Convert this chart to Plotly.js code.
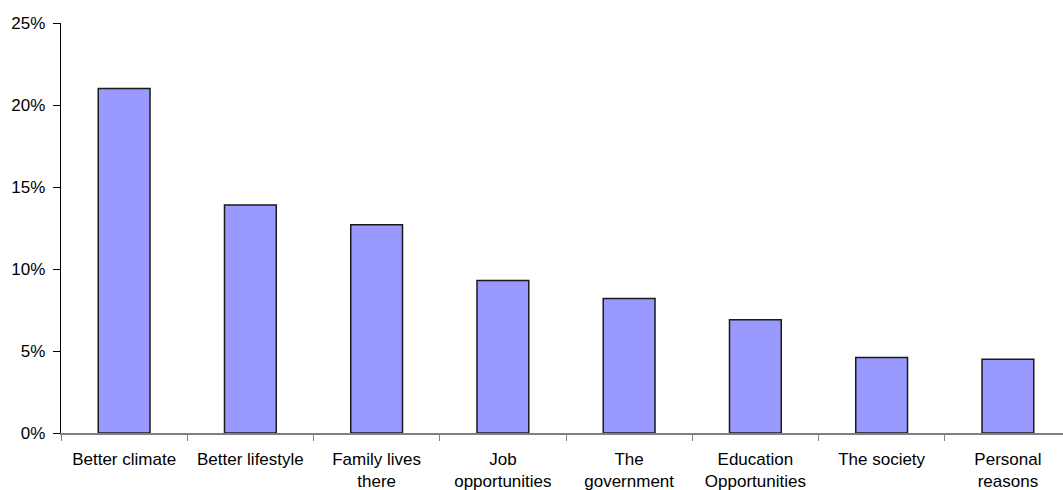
<!DOCTYPE html>
<html>
<head>
<meta charset="utf-8">
<script src="https://cdn.plot.ly/plotly-3.0.1.min.js"></script>
<style>
  html, body { margin: 0; padding: 0; background: #fff; overflow: hidden; }
  #chart { width: 1075px; height: 490px; }
</style>
</head>
<body>
<div id="chart"></div>
<script>
// Reasons given, share of respondents (%)
const categories = [
  "Better climate",
  "Better lifestyle",
  "Family lives<br>there",
  "Job<br>opportunities",
  "The<br>government",
  "Education<br>Opportunities",
  "The society",
  "Personal<br>reasons"
];
const shares = [21.0, 13.9, 12.7, 9.3, 8.2, 6.9, 4.6, 4.5];
const yTicks = [0, 5, 10, 15, 20, 25];

const trace = {
  type: "bar",
  x: categories,
  y: shares,
  width: 0.41,
  marker: {
    color: "#9999FF",
    line: { color: "#1a1a1a", width: 1.5 }
  },
  hoverinfo: "x+y"
};

const layout = {
  width: 1075,
  height: 490,
  margin: { l: 61, r: 4, t: 23, b: 57 },
  paper_bgcolor: "#ffffff",
  plot_bgcolor: "#ffffff",
  showlegend: false,
  font: { family: "Liberation Sans, Arial, sans-serif", size: 17, color: "#000000" },
  xaxis: {
    type: "category",
    showline: true,
    linecolor: "#808080",
    linewidth: 1.5,
    showgrid: false,
    zeroline: false,
    ticks: "outside",
    tickson: "boundaries",
    ticklen: 6,
    tickcolor: "#808080",
    tickwidth: 1,
    tickangle: 0,
    ticklabelstandoff: 10,
    tickfont: { size: 17, color: "#000000" },
    automargin: false
  },
  yaxis: {
    range: [0, 25],
    tickvals: yTicks,
    ticktext: yTicks.map(v => v + "%"),
    showline: true,
    linecolor: "#000000",
    linewidth: 1.2,
    showgrid: false,
    zeroline: false,
    ticks: "outside",
    ticklen: 7,
    tickcolor: "#000000",
    tickwidth: 1,
    ticklabelstandoff: 4,
    tickfont: { size: 17, color: "#000000" },
    automargin: false
  }
};

Plotly.newPlot("chart", [trace], layout, { displayModeBar: false, staticPlot: true });
</script>
</body>
</html>
